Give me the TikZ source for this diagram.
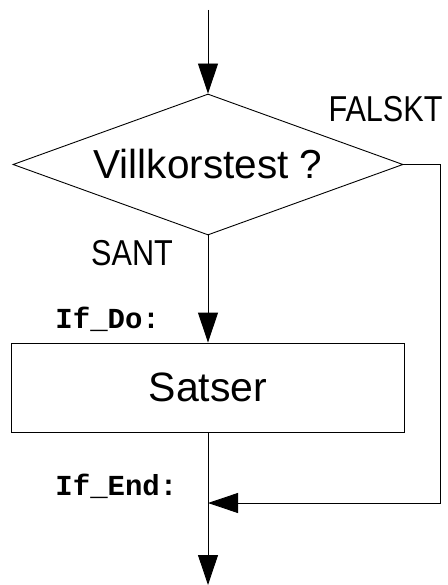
\documentclass[tikz,border=0pt]{standalone}
\usepackage{fontspec}
\setmainfont{Liberation Sans}
\newfontfamily\narrowfont{Liberation Sans}[FakeStretch=0.85]
\setmonofont{Liberation Mono}
\usetikzlibrary{positioning}
\usetikzlibrary{shapes.geometric,arrows.meta}

\begin{document}
\begin{tikzpicture}[x=1pt, y=-1pt, line width=0.9pt,
  every node/.style={inner sep=0pt},
  flow/.style={-{Triangle[length=30pt,width=20pt]}},
  test/.style={diamond, draw, aspect=2.77, minimum width=390pt, minimum height=141pt,
    font=\fontsize{40.5}{44}\selectfont},
  block/.style={rectangle, draw, minimum width=393pt, minimum height=89pt,
    font=\fontsize{41}{44}\selectfont},
  answer/.style={anchor=base, font=\narrowfont\fontsize{36}{40}\selectfont},
  label/.style={anchor=base west, font=\ttfamily\bfseries\fontsize{29}{32}\selectfont},
]
  \useasboundingbox (0,0) rectangle (447,585);

  \coordinate (start) at (208,10);
  \node[test] (villkor) at (208,164.5) {Villkorstest ?};
  \node[block] (satser) at (208,387.5) {Satser};
  \coordinate (join) at (208,503);
  \coordinate (stop) at (208,585);

  \node[answer] (falskt) at (385.5,122) {FALSKT};
  \node[answer] (sant) at (132,265) {SANT};
  \node[label] (ifdo) at (55,328) {If\_Do:};
  \node[label] (ifend) at (55,495) {If\_End:};

  \draw[flow] (start) -- (villkor.north);
  \draw[flow] (villkor.south) -- (satser.north);
  \draw[flow] (satser.south) -- (stop);
  \draw[flow] (villkor.east) -- ++(37,0) |- (join);
\end{tikzpicture}
\end{document}
